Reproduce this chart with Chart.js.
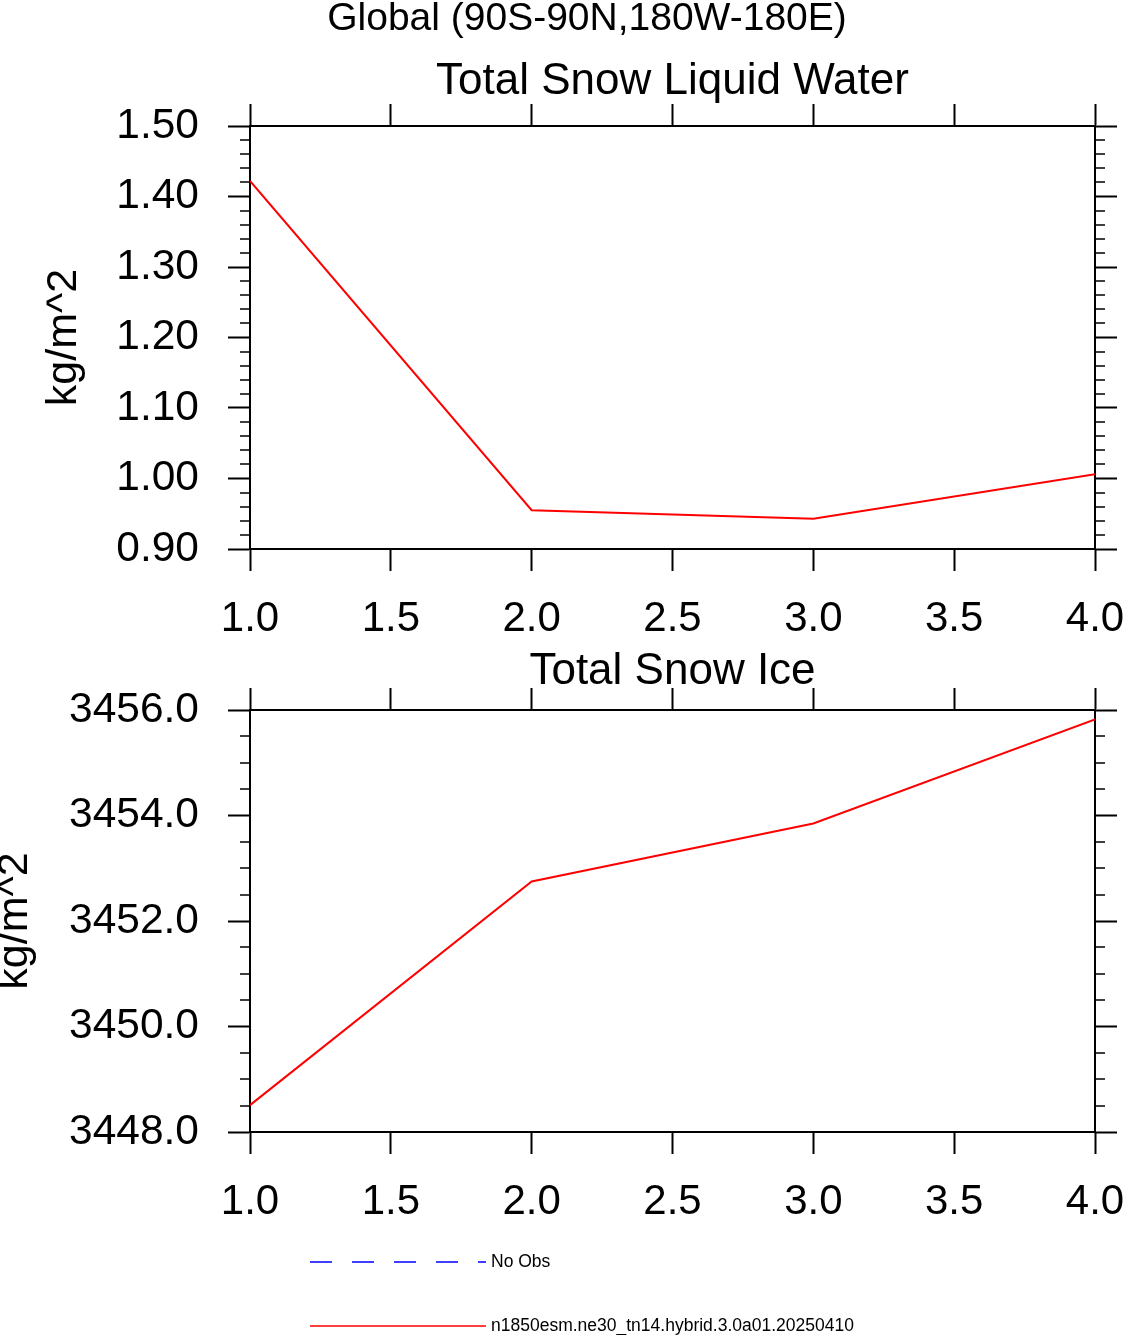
<!DOCTYPE html>
<html>
<head>
<meta charset="utf-8">
<script src="https://cdn.jsdelivr.net/npm/chart.js@4.4.1/dist/chart.umd.min.js"></script>
<style>
  body { margin: 0; background: #fff; }
  canvas { position: absolute; left: 0; }
</style>
</head>
<body>
<canvas id="water" width="1124" height="645" style="top:0px"></canvas>
<canvas id="ice" width="1124" height="690" style="top:645px"></canvas>
<script>
// values
const years = [1, 2, 3, 4];
const snowLiquidWater = [1.422, 0.955, 0.943, 1.006];
const snowIce = [3448.51, 3452.75, 3453.85, 3455.82];

// axis ranges: min, max, major step, minor step
const xRange = [1, 4, 0.5];
const waterRange = [0.9, 1.5, 0.1, 0.02];
const iceRange = [3448, 3456, 2, 0.5];

const caseName = 'n1850esm.ne30_tn14.hybrid.3.0a01.20250410';
const obsName = 'No Obs';

const FONT = '"Liberation Sans", Arial, Helvetica, sans-serif';
Chart.defaults.font.family = FONT;
Chart.defaults.color = '#000';

function toPoints(xs, ys) {
    return xs.map((x, i) => ({x: x, y: ys[i]}));
}

// short ticks between the labelled ones, on both vertical sides
const minorTicks = {
    id: 'minorTicks',
    afterDraw(chart, args, opts) {
        const y = chart.scales.y;
        const area = chart.chartArea;
        const ctx = chart.ctx;
        const n = Math.round((y.max - y.min) / opts.step);
        const every = Math.round(opts.major / opts.step);
        ctx.save();
        ctx.strokeStyle = '#000';
        ctx.lineWidth = 1.5;
        ctx.beginPath();
        for (let i = 1; i < n; i++) {
            if (i % every === 0) continue;
            const py = Math.round(y.getPixelForValue(y.min + i * opts.step));
            ctx.moveTo(area.left - 10, py);
            ctx.lineTo(area.left, py);
            ctx.moveTo(area.right, py);
            ctx.lineTo(area.right + 10, py);
        }
        ctx.stroke();
        ctx.restore();
    }
};

// stacked legend under the lower panel
const lineLegend = {
    id: 'lineLegend',
    afterDraw(chart, args, opts) {
        const ctx = chart.ctx;
        const area = chart.chartArea;
        chart.data.datasets.forEach((ds, i) => {
            const x0 = area.left + opts.left;
            const y = area.bottom + opts.top + i * opts.spacing;
            ctx.save();
            ctx.strokeStyle = ds.borderColor;
            ctx.lineWidth = 1.5;
            ctx.setLineDash(ds.borderDash || []);
            ctx.beginPath();
            ctx.moveTo(x0, y);
            ctx.lineTo(x0 + opts.length, y);
            ctx.stroke();
            ctx.setLineDash([]);
            ctx.fillStyle = '#000';
            ctx.font = '17.5px ' + FONT;
            ctx.textBaseline = 'middle';
            ctx.fillText(ds.label, x0 + opts.length + 5, y);
            ctx.restore();
        });
    }
};

function getAxis(position, range, o) {
    return {
        type: 'linear',
        position: position,
        min: range[0],
        max: range[1],
        grid: {drawOnChartArea: false, drawTicks: true, tickLength: 22, tickWidth: 2, tickColor: '#000'},
        border: {display: true, color: '#000', width: 2},
        ticks: {
            display: !!o.labels,
            stepSize: range[2],
            autoSkip: false,
            maxRotation: 0,
            padding: o.pad || 0,
            font: {size: o.fontSize || 42, lineHeight: 1},
            callback: v => v.toFixed(o.digits || 1)
        },
        title: o.title ? {display: true, text: o.title, font: {size: 43, lineHeight: 0.5}, padding: {top: o.titlePad, bottom: 0}} : {display: false},
        afterFit: s => {
            if (s.isHorizontal()) s.height = o.size; else s.width = o.size;
            s.paddingLeft = 0; s.paddingRight = 0; s.paddingTop = 0; s.paddingBottom = 0;
        }
    };
}

function getScales(yRange, digits, topSize, leftSize, titlePad) {
    return {
        x: getAxis('bottom', xRange, {labels: true, pad: 27, digits: 1, size: 96}),
        x2: getAxis('top', xRange, {size: topSize}),
        y: getAxis('left', yRange, {labels: true, pad: 29, digits: digits, fontSize: 42.5, size: leftSize, title: 'kg/m^2', titlePad: titlePad}),
        y2: getAxis('right', yRange, {size: 29})
    };
}

const lineStyle = {borderColor: 'rgb(255, 0, 0)', borderWidth: 2, pointRadius: 0, tension: 0};

const charts = {
    'water': new Chart(document.querySelector('#water'), {
        type: 'line',
        data: {
            datasets: [Object.assign({label: caseName, data: toPoints(years, snowLiquidWater)}, lineStyle)]
        },
        options: {
            responsive: false,
            animation: false,
            layout: {padding: {left: 50, right: 0, top: 0, bottom: 0}},
            plugins: {
                legend: {display: false},
                tooltip: {enabled: false},
                title: {display: true, text: 'Global (90S-90N,180W-180E)', fullSize: true, color: '#000',
                        font: {size: 39, weight: 'normal', lineHeight: 1}, padding: {top: 0, bottom: 0}},
                subtitle: {display: true, text: 'Total Snow Liquid Water', fullSize: false, color: '#000',
                           font: {size: 44, weight: 'normal', lineHeight: 1}, padding: {top: 21, bottom: 0}},
                minorTicks: {step: waterRange[3], major: waterRange[2]}
            },
            scales: getScales(waterRange, 2, 22, 200, 3.25)
        },
        plugins: [minorTicks]
    }),
    'ice': new Chart(document.querySelector('#ice'), {
        type: 'line',
        data: {
            datasets: [
                Object.assign({}, lineStyle, {label: obsName, data: [], borderColor: 'rgb(0, 0, 255)', borderDash: [22, 20]}),
                Object.assign({label: caseName, data: toPoints(years, snowIce)}, lineStyle)
            ]
        },
        options: {
            responsive: false,
            animation: false,
            layout: {padding: {left: 0, right: 0, top: 0, bottom: 107}},
            plugins: {
                legend: {display: false},
                tooltip: {enabled: false},
                title: {display: true, text: 'Total Snow Ice', fullSize: false, color: '#000',
                        font: {size: 44, weight: 'normal', lineHeight: 1}, padding: {top: 4.5, bottom: 0}},
                minorTicks: {step: iceRange[3], major: iceRange[2]},
                lineLegend: {left: 60, top: 130, spacing: 64, length: 176}
            },
            scales: getScales(iceRange, 1, 16.5, 250, 4.25)
        },
        plugins: [minorTicks, lineLegend]
    })
};
</script>
</body>
</html>
